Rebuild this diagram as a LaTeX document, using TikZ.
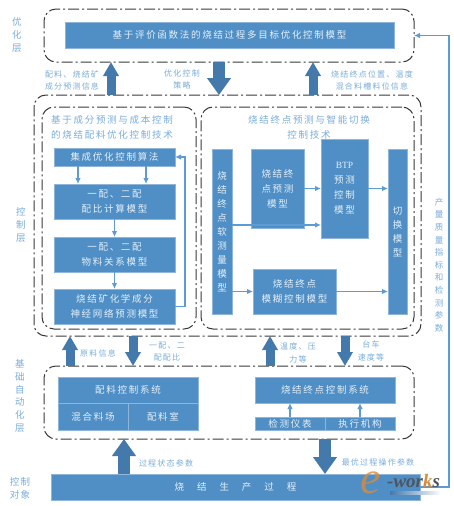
\documentclass[tikz,border=0pt]{standalone}
\usepackage{fontspec}
\setmainfont{Liberation Serif}
\newfontfamily\cjk[LetterSpace=18]{Noto Sans CJK SC}
\newfontfamily\cjknote[LetterSpace=15]{Noto Sans CJK SC}
\usepackage{tikz}
\usetikzlibrary{shapes, arrows.meta, positioning}
\definecolor{boxblue}{HTML}{4F8FC6}
\definecolor{boxedge}{HTML}{8FB6DA}
\definecolor{boxtext}{HTML}{E6EFF7}
\definecolor{noteblue}{HTML}{7AADDC}
\definecolor{fatblue}{HTML}{4479AC}
\definecolor{lineblue}{HTML}{5C9BD3}
\definecolor{dashgray}{HTML}{3A3A3A}
\definecolor{logoorange}{HTML}{D98A3A}
\definecolor{logodark}{HTML}{50545C}
\tikzstyle{block}=[draw=boxedge,line width=.5pt,fill=boxblue,rectangle,text=boxtext,inner sep=0pt,outer sep=0pt,align=center,font=\cjk\fontsize{9.5}{15}\selectfont]
\tikzstyle{tallblock}=[block,font=\cjk\fontsize{9.5}{14}\selectfont]
\tikzstyle{layer}=[draw=dashgray,line width=1pt,dash pattern=on 11pt off 3pt on 2pt off 3pt,rectangle,rounded corners=12pt,inner sep=0pt,outer sep=0pt]
\tikzstyle{note}=[text=noteblue,inner sep=0pt,align=center,font=\cjknote\fontsize{8}{12.5}\selectfont]
\tikzstyle{side}=[text=noteblue,inner sep=0pt,align=center,font=\cjknote\fontsize{9.5}{13}\selectfont]
\tikzstyle{title}=[text=noteblue,inner sep=0pt,align=center,font=\cjk\fontsize{9.5}{15}\selectfont]
\tikzstyle{thin}=[->,lineblue,line width=1.2pt]
\tikzstyle{fat}=[fatblue,line width=9pt,-{Triangle[width=15pt,length=14pt]}]
\tikzstyle{fatter}=[fatblue,line width=12pt,-{Triangle[width=23pt,length=17pt]}]

\begin{document}
\begin{tikzpicture}[x=1pt,y=-1pt,>={Latex[length=6pt,width=5.5pt]}]
    \useasboundingbox (0,0) rectangle (454,506);
    \fill[white] (0,0) rectangle (454,506);
    % layers
    \node[layer, minimum width=370pt, minimum height=53pt] (optlayer) at (229,35.5) {};
    \node[layer, minimum width=387pt, minimum height=241pt] (ctrllayer) at (227.5,215.5) {};
    \node[layer, minimum width=154pt, minimum height=222pt] (leftpart) at (119,218) {};
    \node[layer, minimum width=213pt, minimum height=222pt] (rightpart) at (307.5,218) {};
    \node[layer, minimum width=370pt, minimum height=73pt] (baselayer) at (229,402.5) {};
    % optimisation
    \node[block, minimum width=329pt, minimum height=26pt] (opt) at (229.5,35) {基于评价函数法的烧结过程多目标优化控制模型};
    % left part
    \node[block, minimum width=121pt, minimum height=18pt] (alg) at (114.5,157) {集成优化控制算法};
    \node[block, minimum width=121pt, minimum height=35pt, below of=alg, node distance=44.5pt] (ratio) {一配、二配\\配比计算模型};
    \node[block, minimum width=121pt, minimum height=35pt, below of=ratio, node distance=53pt] (mat) {一配、二配\\物料关系模型};
    \node[block, minimum width=121pt, minimum height=35pt, below of=mat, node distance=52pt] (net) {烧结矿化学成分\\神经网络预测模型};
    % right part
    \node[tallblock, minimum width=20pt, minimum height=165pt] (soft) at (222,231.5) {烧\\结\\终\\点\\软\\测\\量\\模\\型};
    \node[block, minimum width=53pt, minimum height=79pt] (pred) at (277.5,188.5) {烧结终\\点预测\\模型};
    \node[block, minimum width=47pt, minimum height=99pt, right of=pred, node distance=67pt] (btp) {{\rmfamily BTP}\\预测\\控制\\模型};
    \node[tallblock, minimum width=19pt, minimum height=165pt, right of=soft, node distance=175.5pt] (switch) {切\\换\\模\\型};
    \node[block, minimum width=83pt, minimum height=45pt] (fuzzy) at (294.5,291.5) {烧结终点\\模糊控制模型};
    % base layer
    \node[block, minimum width=140pt, minimum height=26pt] (dose) at (128,390) {配料控制系统};
    \node[block, minimum width=70pt, minimum height=27pt] (yard) at (93,416.5) {混合料场};
    \node[block, minimum width=70pt, minimum height=27pt, right of=yard, node distance=70pt] (room) {配料室};
    \node[block, minimum width=140pt, minimum height=26pt] (sinter) at (325,390) {烧结终点控制系统};
    \node[block, minimum width=70pt, minimum height=13pt] (sensor) at (290,423.5) {检测仪表};
    \node[block, minimum width=70pt, minimum height=13pt, right of=sensor, node distance=70pt] (actuator) {执行机构};
    % plant
    \node[block, minimum width=369pt, minimum height=26pt] (plant) at (235.5,487) {烧　结　生　产　过　程};
    % layer names
    \node[side] (sideopt) at (17,35) {优\\化\\层};
    \node[side] (sidectrl) at (21,225) {控\\制\\层};
    \node[side, font=\cjknote\fontsize{9.5}{12.7}\selectfont] (sidebase) at (20,396) {基\\础\\自\\动\\化\\层};
    \node[side] (sideplant) at (20,488) {控制\\对象};
    % titles
    \node[title] (lefttitle) at (112,127.5) {基于成分预测与成本控制\\的烧结配料优化控制技术};
    \node[title] (righttitle) at (309,127.5) {烧结终点预测与智能切换\\控制技术};
    % notes
    \node[note] (noteA) at (72,80.5) {配料、烧结矿\\成分预测信息};
    \node[note] (noteB) at (182,79.5) {优化控制\\策略};
    \node[note] (noteC) at (372,80.5) {烧结终点位置、温度\\混合料槽料位信息};
    \node[note] (noteD) at (98,353) {原料信息};
    \node[note] (noteE) at (167,351.5) {一配、二\\配配比};
    \node[note] (noteF) at (298,353) {温度、压\\力等};
    \node[note] (noteG) at (371,351) {台车\\速度等};
    \node[note] (noteH) at (166,463) {过程状态参数};
    \node[note] (noteI) at (378,462) {最优过程操作参数};
    \node[note, font=\cjknote\fontsize{8.5}{12.6}\selectfont] (noteJ) at (439,265) {产\\量\\质\\量\\指\\标\\和\\检\\测\\参\\数};
    % thin arrows
    \coordinate (algL) at ([xshift=-36.5pt]alg.south);
    \coordinate (algR) at ([xshift=31.5pt]alg.south);
    \coordinate (btpin) at ([yshift=-36.5pt]btp.west);
    \draw[thin] (algL) -- (algL |- ratio.north);
    \draw[thin] (algR) -- (algR |- ratio.north);
    \draw[thin] (ratio) -- (mat);
    \draw[thin] (mat) -- (net);
    \draw[thin] (net.east) -- ++(10,0) |- (alg.east);
    \draw[thin] (pred) -- (pred -| btp.west);
    \draw[thin] (soft.east |- btpin) -- (btpin);
    \draw[thin] (soft.east |- fuzzy) -- (fuzzy.west);
    \draw[thin] (btp) -- (btp -| switch.west);
    \draw[thin] (fuzzy) -- (fuzzy -| switch.west);
    \draw[thin] (sensor) -- (sensor |- sinter.south);
    \draw[thin] (actuator) -- (actuator |- sinter.south);
    \draw[thin] (plant.east) -- ++(29,0) |- (optlayer.east);
    % fat arrows
    \coordinate (fatA) at (111,0);
    \coordinate (fatB) at (219,0);
    \coordinate (fatC) at (313,0);
    \coordinate (fatD) at (70,0);
    \coordinate (fatE) at (133,0);
    \coordinate (fatF) at (270,0);
    \coordinate (fatG) at (345,0);
    \coordinate (fatH) at (124,0);
    \coordinate (fatI) at (325,0);
    \draw[fat] (fatA |- ctrllayer.north) -- (fatA |- optlayer.south);
    \draw[fatter] (fatB |- optlayer.south) -- (fatB |- ctrllayer.north);
    \draw[fat] (fatC |- ctrllayer.north) -- (fatC |- optlayer.south);
    \draw[fat] (fatD |- baselayer.north) -- (fatD |- ctrllayer.south);
    \draw[fat] (fatE |- ctrllayer.south) -- (fatE |- baselayer.north);
    \draw[fat] (fatF |- baselayer.north) -- (fatF |- ctrllayer.south);
    \draw[fat] (fatG |- ctrllayer.south) -- (fatG |- baselayer.north);
    \draw[fatter] (fatH |- plant.north) -- (fatH |- baselayer.south);
    \draw[fatter] (fatI |- baselayer.south) -- (fatI |- plant.north);
    % logo
    \shade[left color=fatblue, right color=white] (390,491) rectangle (441,494);
    \node[inner sep=0pt, text=logoorange, opacity=.8, anchor=base west, font=\itshape\fontsize{46}{46}\selectfont] (logoe) at (360,493) {e};
    \node[inner sep=0pt, text=logodark, anchor=base west, font=\bfseries\itshape\fontsize{19}{19}\selectfont] (logotext) at (387,487) {-wor{\color{logoorange}k}s};
\end{tikzpicture}
\end{document}
